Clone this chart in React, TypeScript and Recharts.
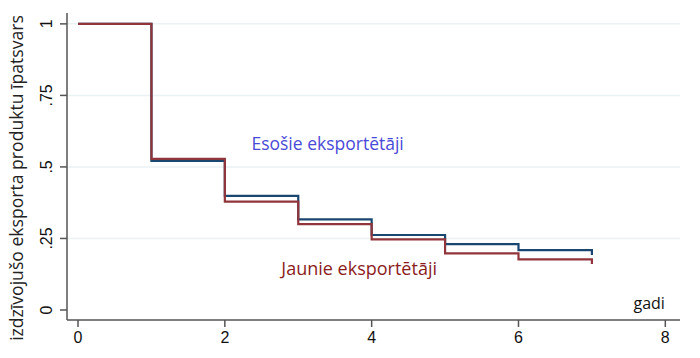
import React from "react";
import { LineChart, Line, XAxis, YAxis, ReferenceLine, ReferenceDot } from "recharts";

const years = [0, 1, 2, 3, 4, 5, 6, 7];
const esosie = [1, 0.521, 0.399, 0.317, 0.262, 0.23, 0.209, 0.192];
const jaunie = [1, 0.528, 0.379, 0.3, 0.247, 0.198, 0.177, 0.161];
const xTicks = [0, 2, 4, 6, 8];
const yTicks = [0, 0.25, 0.5, 0.75, 1];
const yTickLabels = ["0", ".25", ".5", ".75", "1"];
const gridValues = [0.25, 0.5, 0.75, 1];

const data = years.map((x, i) => ({ x, esosie: esosie[i], jaunie: jaunie[i] }));

const tickFont = "'Liberation Sans Narrow', 'Arial Narrow', 'Liberation Sans', sans-serif";
const textFont = "'Open Sans', 'Noto Sans', sans-serif";

const YTick = (props: any) => {
  const { x, y, payload } = props;
  const idx = yTicks.indexOf(payload.value);
  const label = idx >= 0 ? yTickLabels[idx] : String(payload.value);
  const bx = x - 6;
  return (
    <text
      x={bx}
      y={y}
      transform={`rotate(-90, ${bx}, ${y})`}
      textAnchor="middle"
      fontFamily={tickFont}
      fontSize={16}
      fill="#111"
    >
      {label}
    </text>
  );
};

const XTick = (props: any) => {
  const { x, y, payload } = props;
  return (
    <text x={x} y={y + 14} textAnchor="middle" fontFamily={tickFont} fontSize={16} fill="#111">
      {payload.value}
    </text>
  );
};

const makeLabel = (text: string, color: string, family: string, size: number) => (props: any) => {
  const vb = props.viewBox || {};
  const cx = vb.x + (vb.width || 0) / 2;
  const cy = vb.y + (vb.height || 0) / 2;
  return (
    <text x={cx} y={cy} textAnchor="middle" dominantBaseline="central" fill={color} fontFamily={family} fontSize={size}>
      {text}
    </text>
  );
};

const YLabel = () => (
  <text
    x={16}
    y={178}
    transform="rotate(-90, 16, 178)"
    textAnchor="middle"
    dominantBaseline="central"
    fontFamily={textFont}
    fontSize={17.6}
    fill="#222"
  >
    izdzīvojušo eksporta produktu īpatsvars
  </text>
);

export default function App() {
  return (
    <div style={{ position: "absolute", left: 0, top: 0, background: "#fff" }}>
      <LineChart width={700} height={358} data={data} margin={{ top: 13, right: 20, bottom: 0, left: 0 }}>
        {gridValues.map((g) => (
          <ReferenceLine key={g} y={g} stroke="#eaf2f3" strokeWidth={1.5} />
        ))}
        <XAxis
          dataKey="x"
          type="number"
          domain={[-0.15, 8.2]}
          ticks={xTicks}
          allowDataOverflow
          height={38}
          stroke="#555"
          strokeWidth={1.5}
          tickSize={7}
          tick={<XTick />}
          interval={0}
        />
        <YAxis
          type="number"
          domain={[-0.035, 1.038]}
          ticks={yTicks}
          allowDataOverflow
          width={67}
          stroke="#555"
          strokeWidth={1.5}
          tickSize={7}
          tick={<YTick />}
          interval={0}
          label={<YLabel />}
        />
        <Line
          type="stepAfter"
          dataKey="esosie"
          stroke="#1a476f"
          strokeWidth={2.2}
          dot={false}
          isAnimationActive={false}
        />
        <Line
          type="stepAfter"
          dataKey="jaunie"
          stroke="#90353b"
          strokeWidth={2.2}
          dot={false}
          isAnimationActive={false}
        />
        <ReferenceDot
          x={3.40}
          y={0.584}
          r={0}
          fill="none"
          stroke="none"
          label={makeLabel("Esošie eksportētāji", "#4a4ad8", textFont, 17.5)}
        />
        <ReferenceDot
          x={3.83}
          y={0.147}
          r={0}
          fill="none"
          stroke="none"
          label={makeLabel("Jaunie eksportētāji", "#8b1c1c", textFont, 18)}
        />
        <ReferenceDot
          x={7.78}
          y={0.026}
          r={0}
          fill="none"
          stroke="none"
          label={makeLabel("gadi", "#111", textFont, 16)}
        />
      </LineChart>
    </div>
  );
}
